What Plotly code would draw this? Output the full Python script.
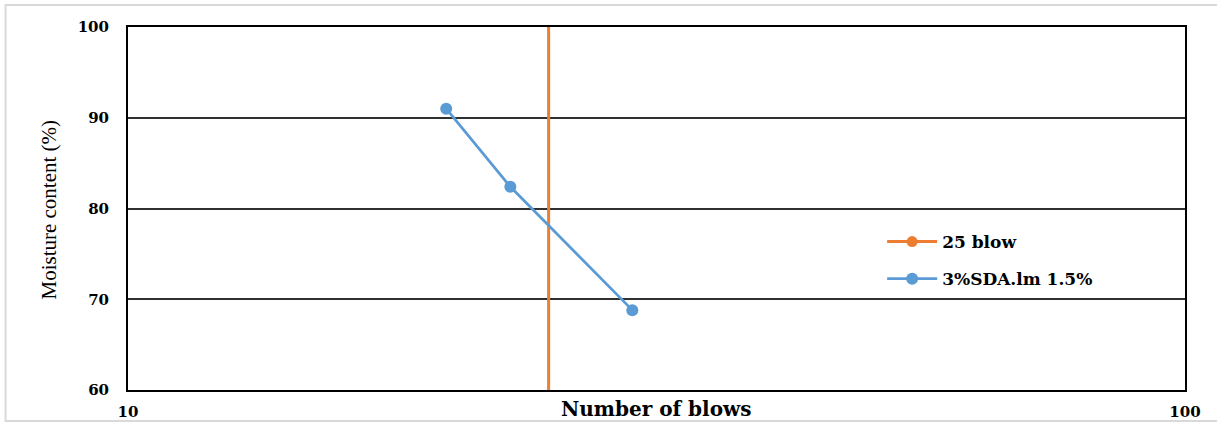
import plotly.graph_objects as go

# Data
blows = [20, 23, 30]
moisture = [91.0, 82.4, 68.8]
ref_blows = [25, 25]
ref_moisture = [0, 200]
x_tickvals = [10, 100]
x_ticktext = ["10", "100"]
y_tickvals = [60, 70, 80, 90, 100]

W, H = 1217, 423
L, R, T, B = 127.5, 32, 27, 33
pw = W - L - R
ph = H - T - B

def px_x(x):
    return (x - L) / pw

def px_y(y):
    return (H - B - y) / ph

fig = go.Figure()
fig.add_trace(go.Scatter(
    x=ref_blows, y=ref_moisture, name="25 blow", mode="lines+markers",
    line=dict(color="#ED7D31", width=3),
    marker=dict(color="#ED7D31", size=11),
    legendgroup="a",
))
fig.add_trace(go.Scatter(
    x=blows, y=moisture, name="3%SDA.lm 1.5%", mode="lines+markers",
    line=dict(color="#5B9BD5", width=2.75),
    marker=dict(color="#5B9BD5", size=12),
    legendgroup="b",
))

tickfont = dict(family="DejaVu Serif", size=15, color="black", weight="bold")

fig.update_layout(
    width=W, height=H,
    margin=dict(l=L, r=R, t=T, b=B, autoexpand=False),
    paper_bgcolor="white", plot_bgcolor="white",
    showlegend=True,
    legend=dict(
        x=px_x(882), y=px_y(224), xanchor="left", yanchor="top",
        font=dict(family="DejaVu Serif", size=17, color="black", weight="bold"),
        tracegroupgap=12, bgcolor="rgba(0,0,0,0)", itemwidth=50,
    ),
    xaxis=dict(
        type="log", range=[1, 2], tickvals=x_tickvals, ticktext=x_ticktext,
        showgrid=False, showline=True, mirror=True, linecolor="black", linewidth=2,
        ticks="", tickfont=tickfont, ticklabelstandoff=7, zeroline=False,
    ),
    yaxis=dict(
        range=[60, 100], tickvals=y_tickvals,
        showgrid=True, gridcolor="#303030", gridwidth=2,
        showline=True, mirror=True, linecolor="black", linewidth=2,
        ticks="", tickfont=tickfont, ticklabelstandoff=14, zeroline=False,
    ),
    annotations=[
        dict(text="Number of blows", xref="paper", yref="paper",
             x=px_x(656), y=px_y(409), xanchor="center", yanchor="middle",
             showarrow=False,
             font=dict(family="DejaVu Serif", size=20, color="black", weight="bold")),
        dict(text="Moisture content (%)", xref="paper", yref="paper",
             x=px_x(48), y=px_y(210), xanchor="center", yanchor="middle",
             textangle=-90, showarrow=False,
             font=dict(family="Liberation Serif", size=21, color="black")),
    ],
    shapes=[
        dict(type="rect", xref="paper", yref="paper",
             x0=px_x(5), x1=px_x(1240), y0=px_y(421), y1=px_y(5),
             line=dict(color="#d9d9d9", width=2), fillcolor="rgba(0,0,0,0)", layer="below"),
    ],
)

fig.write_html("out.html", config={"displayModeBar": False},
               post_script="document.body.style.margin='0';document.body.style.padding='0';")
